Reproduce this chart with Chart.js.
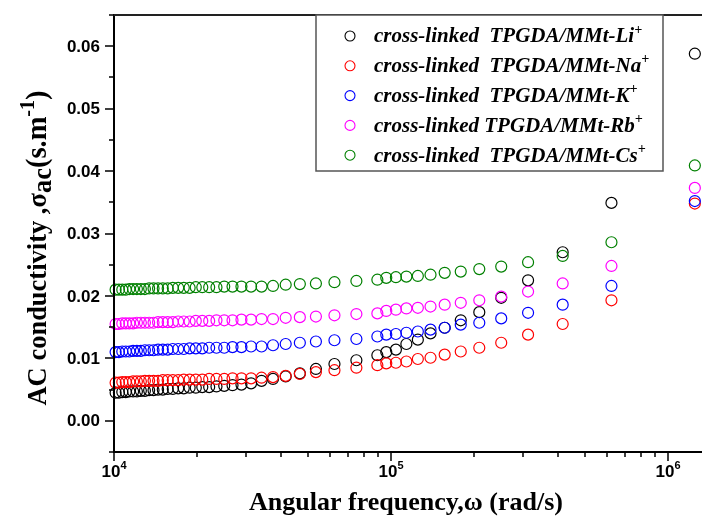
<!DOCTYPE html>
<html><head><meta charset="utf-8">
<script src="https://cdn.jsdelivr.net/npm/chart.js@4.4.0/dist/chart.umd.min.js"></script>
<style>html,body{margin:0;padding:0;background:#fff;overflow:hidden}</style>
</head><body>
<canvas id="c" width="702" height="518"></canvas>
<script>
// ---- data ----
const omega = [10135, 10417, 10714, 11029, 11364, 11719, 12097, 12500, 12931, 13393, 13889, 14423, 15000, 15625, 16304, 17045, 17857, 18750, 19737, 20833, 22059, 23438, 25000, 26786, 28846, 31250, 34091, 37500, 41667, 46875, 53571, 62500, 75000, 89286, 96154, 104167, 113636, 125000, 138889, 156250, 178571, 208333, 250000, 312500, 416667, 625000, 1250000];

const sigmaLi = [0.0045, 0.0045, 0.0046, 0.0046, 0.0047, 0.0047, 0.0047, 0.0048, 0.0048, 0.0049, 0.0049, 0.0050, 0.0050,
  0.0051, 0.0051, 0.0052, 0.0052, 0.0053, 0.0053, 0.0054, 0.0054, 0.0055, 0.0056, 0.0057, 0.0058,
  0.0060, 0.0064, 0.0067, 0.0071, 0.0076, 0.0083, 0.0091, 0.0097, 0.0105, 0.0110, 0.0114, 0.0123, 0.0130, 0.0140, 0.0149, 0.0161, 0.0174, 0.0197, 0.0225, 0.0270, 0.0349, 0.0588];
const sigmaNa = [0.0061, 0.0061, 0.0062, 0.0062, 0.0062, 0.0063, 0.0063, 0.0063, 0.0064, 0.0064, 0.0064, 0.0064, 0.0065,
  0.0065, 0.0065, 0.0065, 0.0066, 0.0066, 0.0066, 0.0066, 0.0067, 0.0067, 0.0067, 0.0068, 0.0068,
  0.0068, 0.0069, 0.0070, 0.0072, 0.0075, 0.0078, 0.0081, 0.0085, 0.0089, 0.0092, 0.0093, 0.0095, 0.0099, 0.0101, 0.0106, 0.0111, 0.0117, 0.0125, 0.0138, 0.0155, 0.0193, 0.0348];
const sigmaK = [0.0110, 0.0110, 0.0111, 0.0111, 0.0111, 0.0112, 0.0112, 0.0112, 0.0113, 0.0113, 0.0113, 0.0114, 0.0114,
  0.0114, 0.0115, 0.0115, 0.0115, 0.0116, 0.0116, 0.0116, 0.0117, 0.0117, 0.0117, 0.0118, 0.0118,
  0.0119, 0.0119, 0.0121, 0.0123, 0.0125, 0.0127, 0.0129, 0.0131, 0.0135, 0.0138, 0.0139, 0.0141, 0.0143, 0.0146, 0.0149, 0.0154, 0.0157, 0.0164, 0.0173, 0.0186, 0.0216, 0.0352];
const sigmaRb = [0.0155, 0.0155, 0.0156, 0.0156, 0.0156, 0.0156, 0.0157, 0.0157, 0.0157, 0.0157, 0.0157, 0.0158, 0.0158,
  0.0158, 0.0158, 0.0159, 0.0159, 0.0159, 0.0160, 0.0160, 0.0160, 0.0161, 0.0161, 0.0161, 0.0162,
  0.0162, 0.0163, 0.0163, 0.0165, 0.0166, 0.0167, 0.0169, 0.0171, 0.0172, 0.0176, 0.0178, 0.0180, 0.0181, 0.0183, 0.0186, 0.0189, 0.0193, 0.0199, 0.0207, 0.0220, 0.0248, 0.0373];
const sigmaCs = [0.0210, 0.0210, 0.0210, 0.0210, 0.0211, 0.0211, 0.0211, 0.0211, 0.0211, 0.0212, 0.0212, 0.0212, 0.0212,
  0.0212, 0.0213, 0.0213, 0.0213, 0.0213, 0.0214, 0.0214, 0.0214, 0.0214, 0.0215, 0.0215, 0.0215,
  0.0215, 0.0215, 0.0216, 0.0218, 0.0219, 0.0220, 0.0222, 0.0224, 0.0226, 0.0229, 0.0230, 0.0231, 0.0232, 0.0234, 0.0237, 0.0239, 0.0243, 0.0247, 0.0254, 0.0264, 0.0286, 0.0409];

const seriesNames = ['cross-linked  TPGDA/MMt-Li', 'cross-linked  TPGDA/MMt-Na', 'cross-linked  TPGDA/MMt-K', 'cross-linked TPGDA/MMt-Rb', 'cross-linked  TPGDA/MMt-Cs'];
const seriesColors = ['#000000', '#ff0000', '#0000ff', '#ff00ff', '#008000'];
const seriesValues = [sigmaLi, sigmaNa, sigmaK, sigmaRb, sigmaCs];

const xMajorTicks = [1e4, 1e5, 1e6];
const xTickExponents = ['4', '5', '6'];
const xMinorMantissas = [2, 3, 4, 5, 6, 7, 8, 9];
const yMajorTicks = [0, 0.01, 0.02, 0.03, 0.04, 0.05, 0.06];
const yMinorTicks = [-0.005, 0.005, 0.015, 0.025, 0.035, 0.045, 0.055, 0.065];
const xRange = [1e4, 1.3267e6];
const yRange = [-0.005, 0.065];

// ---- helpers ----
function drawRich(ctx, parts, x, y, align) {
  let w = 0;
  parts.forEach(p => { ctx.font = p.font; p.w = ctx.measureText(p.t).width; w += p.w; });
  let cx = align === 'center' ? x - w / 2 : (align === 'right' ? x - w : x);
  parts.forEach(p => {
    ctx.font = p.font;
    ctx.textAlign = 'left';
    ctx.fillText(p.t, cx, y + (p.dy || 0));
    cx += p.w;
  });
  return w;
}

const decor = {
  id: 'decor',
  afterDatasetsDraw(chart) {
    const ctx = chart.ctx, a = chart.chartArea, xs = chart.scales.x, ys = chart.scales.y;
    ctx.save();
    ctx.fillStyle = '#000';
    ctx.strokeStyle = '#000';
    // axes frame
    ctx.lineWidth = 2;
    ctx.beginPath();
    ctx.moveTo(a.left, a.top); ctx.lineTo(a.left, a.bottom + 1);
    ctx.moveTo(a.left - 1, a.bottom); ctx.lineTo(a.right, a.bottom);
    ctx.stroke();
    ctx.strokeStyle = '#222';
    ctx.beginPath();
    ctx.moveTo(a.left - 1, a.top); ctx.lineTo(a.right, a.top);
    ctx.stroke();
    ctx.strokeStyle = '#000';
    // y ticks
    ctx.lineWidth = 1.5;
    ctx.beginPath();
    yMajorTicks.forEach(v => { const p = Math.round(ys.getPixelForValue(v)); ctx.moveTo(a.left, p); ctx.lineTo(a.left - 9, p); });
    yMinorTicks.forEach(v => { const p = Math.round(ys.getPixelForValue(v)); ctx.moveTo(a.left, p); ctx.lineTo(a.left - 5, p); });
    // x ticks
    xMajorTicks.forEach(v => { const p = Math.round(xs.getPixelForValue(v)); ctx.moveTo(p, a.bottom); ctx.lineTo(p, a.bottom + 9); });
    xMajorTicks.forEach(d => xMinorMantissas.forEach(m => {
      const v = d * m; if (v > xRange[1]) return;
      const p = Math.round(xs.getPixelForValue(v)); ctx.moveTo(p, a.bottom); ctx.lineTo(p, a.bottom + 5);
    }));
    ctx.stroke();
    // y tick labels
    ctx.font = 'bold 17px "Liberation Sans", Arial, sans-serif';
    ctx.textAlign = 'right'; ctx.textBaseline = 'middle';
    yMajorTicks.forEach(v => ctx.fillText(v.toFixed(2), 100, ys.getPixelForValue(v) + 1));
    // x tick labels
    ctx.textBaseline = 'alphabetic';
    xMajorTicks.forEach((v, i) => {
      drawRich(ctx, [
        { t: '10', font: 'bold 17px "Liberation Sans", Arial, sans-serif' },
        { t: xTickExponents[i], font: 'bold 11px "Liberation Sans", Arial, sans-serif', dy: -8 }
      ], xs.getPixelForValue(v), 477, 'center');
    });
    const serif = '"Liberation Serif", "Times New Roman", serif';
    // x title
    drawRich(ctx, [{ t: 'Angular frequency,\u03C9 (rad/s)', font: 'bold 26px ' + serif }], 406, 510, 'center');
    // y title (rotated)
    ctx.save();
    ctx.translate(46, 248);
    ctx.rotate(-Math.PI / 2);
    drawRich(ctx, [
      { t: 'AC conductivity ,\u03C3', font: 'bold 26.5px ' + serif },
      { t: 'ac', font: 'bold 26.5px ' + serif, dy: 5 },
      { t: '(s.m', font: 'bold 28.5px ' + serif },
      { t: '-1', font: 'bold 20px ' + serif, dy: -12 },
      { t: ')', font: 'bold 28.5px ' + serif }
    ], 0, 0, 'center');
    ctx.restore();
    // legend
    const L = 316, T = 15, R = 663, B = 171;
    ctx.fillStyle = '#fff';
    ctx.fillRect(L, T, R - L, B - T);
    ctx.strokeStyle = '#555'; ctx.lineWidth = 1.5;
    ctx.strokeRect(L, T, R - L, B - T);
    ctx.textBaseline = 'middle';
    seriesNames.forEach((name, i) => {
      const yy = 36 + i * 29.8;
      ctx.beginPath();
      ctx.strokeStyle = seriesColors[i]; ctx.lineWidth = 1.1;
      ctx.arc(350, yy, 5, 0, Math.PI * 2);
      ctx.stroke();
      ctx.fillStyle = '#000';
      drawRich(ctx, [
        { t: name, font: 'italic bold 21px ' + serif },
        { t: '+', font: 'italic bold 14px ' + serif, dy: -7 }
      ], 374, yy + 1, 'left');
    });
    ctx.restore();
  }
};

const datasets = seriesValues.map((vals, i) => ({
  label: seriesNames[i] + '+',
  data: omega.map((w, k) => ({ x: w, y: vals[k] })),
  borderColor: seriesColors[i],
  backgroundColor: 'rgba(0,0,0,0)',
  pointRadius: 5.5,
  pointHoverRadius: 5.5,
  pointBorderWidth: 1.2,
  pointStyle: 'circle',
  showLine: false,
  clip: false,
  order: 5 - i
}));

new Chart(document.getElementById('c'), {
  type: 'scatter',
  data: { datasets },
  options: {
    responsive: false,
    devicePixelRatio: 1,
    animation: false,
    layout: { autoPadding: false, padding: { top: 15, left: 0, right: 0, bottom: 0 } },
    plugins: { legend: { display: false }, tooltip: { enabled: false } },
    scales: {
      x: {
        type: 'logarithmic', position: 'bottom', min: xRange[0], max: xRange[1],
        ticks: { display: false }, grid: { display: false }, border: { display: false },
        afterFit: s => { s.height = 66; s.paddingLeft = 0; s.paddingRight = 0; }
      },
      y: {
        type: 'linear', position: 'left', min: yRange[0], max: yRange[1],
        ticks: { display: false }, grid: { display: false }, border: { display: false },
        afterFit: s => { s.width = 114; s.paddingTop = 0; s.paddingBottom = 0; }
      }
    }
  },
  plugins: [decor]
});
</script>
</body></html>
